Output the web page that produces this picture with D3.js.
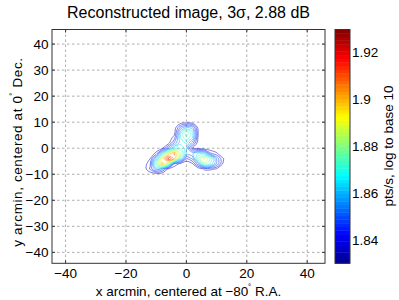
<!DOCTYPE html>
<html>
<head>
<meta charset="utf-8">
<script src="https://cdn.jsdelivr.net/npm/d3@7"></script>
<style>
  body { margin: 0; background: #fff; }
  svg text { font-family: "Liberation Sans", Arial, Helvetica, sans-serif; fill: #000; }
</style>
</head>
<body>
<div id="chart"></div>
<script>
// tick labels
const xTicks = [-40, -20, 0, 20, 40];
const yTicks = [-40, -30, -20, -10, 0, 10, 20, 30, 40];
const cbTicks = [1.84, 1.86, 1.88, 1.9, 1.92];

// colour limits of the image (log10 pts/s)
const cLim = [1.8304, 1.9297];

// contour levels
const levels = [1.835, 1.841, 1.847, 1.853, 1.859, 1.865, 1.871, 1.877,
  1.883, 1.889, 1.895, 1.901, 1.907, 1.913, 1.919];

// sample grid, arcmin
const gridX = [-16, -14, -12, -10, -8, -6, -4, -2, 0, 2, 4, 6, 8, 10, 12, 14];
const gridY = [12, 10, 8, 6, 4, 2, 0, -2, -4, -6, -8, -10, -12];

// reconstructed rate, log10 pts/s, one row per gridY value (top to bottom)
const rateRows = [
  [1.830, 1.830, 1.830, 1.830, 1.830, 1.830, 1.830, 1.830, 1.830, 1.830, 1.830, 1.830, 1.830, 1.830, 1.830, 1.830],
  [1.830, 1.830, 1.830, 1.830, 1.830, 1.830, 1.830, 1.830, 1.831, 1.830, 1.830, 1.830, 1.830, 1.830, 1.830, 1.830],
  [1.830, 1.830, 1.830, 1.830, 1.830, 1.830, 1.830, 1.848, 1.858, 1.855, 1.831, 1.830, 1.830, 1.830, 1.830, 1.830],
  [1.830, 1.830, 1.830, 1.830, 1.830, 1.830, 1.832, 1.862, 1.882, 1.868, 1.833, 1.830, 1.830, 1.830, 1.830, 1.830],
  [1.830, 1.830, 1.830, 1.830, 1.830, 1.830, 1.838, 1.865, 1.876, 1.865, 1.832, 1.830, 1.830, 1.830, 1.830, 1.830],
  [1.830, 1.830, 1.830, 1.830, 1.830, 1.832, 1.848, 1.862, 1.866, 1.850, 1.830, 1.830, 1.830, 1.830, 1.830, 1.830],
  [1.830, 1.830, 1.830, 1.830, 1.834, 1.850, 1.866, 1.872, 1.860, 1.8345, 1.833, 1.830, 1.830, 1.830, 1.830, 1.830],
  [1.830, 1.830, 1.830, 1.837, 1.864, 1.893, 1.908, 1.885, 1.858, 1.858, 1.866, 1.862, 1.842, 1.836, 1.830, 1.830],
  [1.830, 1.830, 1.835, 1.860, 1.895, 1.921, 1.905, 1.868, 1.840, 1.848, 1.878, 1.892, 1.876, 1.852, 1.836, 1.830],
  [1.830, 1.831, 1.840, 1.878, 1.905, 1.880, 1.840, 1.833, 1.830, 1.834, 1.852, 1.880, 1.870, 1.853, 1.835, 1.830],
  [1.830, 1.831, 1.842, 1.858, 1.850, 1.833, 1.830, 1.830, 1.830, 1.830, 1.830, 1.836, 1.836, 1.834, 1.830, 1.830],
  [1.830, 1.830, 1.830, 1.830, 1.830, 1.830, 1.830, 1.830, 1.830, 1.830, 1.830, 1.830, 1.830, 1.830, 1.830, 1.830],
  [1.830, 1.830, 1.830, 1.830, 1.830, 1.830, 1.830, 1.830, 1.830, 1.830, 1.830, 1.830, 1.830, 1.830, 1.830, 1.830]
];

const W = 399, H = 300;
const plot = { left: 52, right: 325, top: 29.5, bottom: 263.3 };
const bar = { left: 335, right: 350 };

const svg = d3.select("#chart").append("svg")
  .attr("width", W)
  .attr("height", H);

const x = d3.scaleLinear().domain([-44.5, 45.9]).range([plot.left, plot.right]);
const y = d3.scaleLinear().domain([-44.2, 45.6]).range([plot.bottom, plot.top]);

// jet colormap over the colour limits
const cSpan = cLim[1] - cLim[0];
const jet = d3.scaleLinear()
  .domain([0, 0.125, 0.375, 0.625, 0.875, 1].map(t => cLim[0] + t * cSpan))
  .range(["#00008f", "#0000ff", "#00ffff", "#ffff00", "#ff0000", "#800000"])
  .clamp(true);

// grid lines
const grid = svg.append("g")
  .attr("stroke", "#999")
  .attr("stroke-width", 0.8)
  .attr("stroke-dasharray", "2.5,2.5");
grid.selectAll(".gx").data(xTicks).enter().append("line")
  .attr("x1", d => x(d)).attr("x2", d => x(d))
  .attr("y1", plot.top).attr("y2", plot.bottom);
grid.selectAll(".gy").data(yTicks).enter().append("line")
  .attr("y1", d => y(d)).attr("y2", d => y(d))
  .attr("x1", plot.left).attr("x2", plot.right);

// contours
const nx = gridX.length, ny = gridY.length;
const stepX = gridX[1] - gridX[0], stepY = gridY[1] - gridY[0];
const flat = rateRows.flat();
const contours = d3.contours().size([nx, ny]).thresholds(levels)(flat);

const line = d3.line().curve(d3.curveCatmullRomClosed.alpha(0.5));
const toPx = p => [x(gridX[0] + (p[0] - 0.5) * stepX), y(gridY[0] + (p[1] - 0.5) * stepY)];

svg.append("clipPath").attr("id", "clip")
  .append("rect")
  .attr("x", plot.left).attr("y", plot.top)
  .attr("width", plot.right - plot.left).attr("height", plot.bottom - plot.top);

const cg = svg.append("g").attr("clip-path", "url(#clip)");
contours.forEach(c => {
  c.coordinates.forEach(poly => {
    poly.forEach(ring => {
      const pts = ring.slice(0, -1).map(toPx);
      if (pts.length < 3) return;
      cg.append("path")
        .attr("d", line(pts))
        .attr("fill", "none")
        .attr("stroke", jet(c.value))
        .attr("stroke-opacity", 0.85)
        .attr("stroke-width", 0.6);
    });
  });
});

// axes box and ticks
svg.append("rect")
  .attr("x", plot.left).attr("y", plot.top)
  .attr("width", plot.right - plot.left).attr("height", plot.bottom - plot.top)
  .attr("fill", "none").attr("stroke", "#333").attr("stroke-width", 1);

const ticks = svg.append("g").attr("stroke", "#333").attr("stroke-width", 1);
xTicks.forEach(d => {
  ticks.append("line").attr("x1", x(d)).attr("x2", x(d)).attr("y1", plot.bottom).attr("y2", plot.bottom - 3);
  ticks.append("line").attr("x1", x(d)).attr("x2", x(d)).attr("y1", plot.top).attr("y2", plot.top + 3);
});
yTicks.forEach(d => {
  ticks.append("line").attr("y1", y(d)).attr("y2", y(d)).attr("x1", plot.left).attr("x2", plot.left + 3);
  ticks.append("line").attr("y1", y(d)).attr("y2", y(d)).attr("x1", plot.right).attr("x2", plot.right - 3);
});

const fmt = v => (v < 0 ? "\u2212" : "") + Math.abs(v);

svg.append("g").selectAll("text").data(xTicks).enter().append("text")
  .attr("x", d => x(d)).attr("y", 278)
  .attr("text-anchor", "middle")
  .attr("font-size", 13.5)
  .text(fmt);

svg.append("g").selectAll("text").data(yTicks).enter().append("text")
  .attr("x", 48.5).attr("y", d => y(d) + 4.8)
  .attr("text-anchor", "end")
  .attr("font-size", 13.5)
  .text(fmt);

// colorbar
const cy = d3.scaleLinear().domain(cLim).range([plot.bottom, plot.top]);
const nBands = 64;
const bands = d3.range(nBands).map(i => cLim[0] + (i + 0.5) * cSpan / nBands);
svg.append("g").selectAll("rect").data(bands).enter().append("rect")
  .attr("x", bar.left)
  .attr("width", bar.right - bar.left)
  .attr("y", (d, i) => cy(cLim[0] + (i + 1) * cSpan / nBands))
  .attr("height", (plot.bottom - plot.top) / nBands + 0.4)
  .attr("fill", d => jet(d));

svg.append("rect")
  .attr("x", bar.left).attr("y", plot.top)
  .attr("width", bar.right - bar.left).attr("height", plot.bottom - plot.top)
  .attr("fill", "none").attr("stroke", "#333").attr("stroke-width", 1);

cbTicks.forEach(d => {
  ticks.append("line").attr("y1", cy(d)).attr("y2", cy(d)).attr("x1", bar.left).attr("x2", bar.left + 2.5);
  ticks.append("line").attr("y1", cy(d)).attr("y2", cy(d)).attr("x1", bar.right).attr("x2", bar.right - 2.5);
});

svg.append("g").selectAll("text").data(cbTicks).enter().append("text")
  .attr("x", 352).attr("y", d => cy(d) + 4.8)
  .attr("font-size", 13.5)
  .text(d => d);

// titles and labels
svg.append("text")
  .attr("x", 188.5).attr("y", 17.5)
  .attr("text-anchor", "middle")
  .attr("font-size", 16)
  .text("Reconstructed image, 3\u03c3, 2.88 dB");

const xl = svg.append("text")
  .attr("x", 188.5).attr("y", 296)
  .attr("text-anchor", "middle")
  .attr("font-size", 13.5);
xl.append("tspan").text("x arcmin, centered at \u221280");
xl.append("tspan").attr("dy", -5).attr("font-size", 9).text("\u02da");
xl.append("tspan").attr("dy", 5).text(" R.A.");

const yl = svg.append("text")
  .attr("transform", "translate(22,152) rotate(-90)")
  .attr("text-anchor", "middle")
  .attr("letter-spacing", 0.6)
  .attr("font-size", 13.5);
yl.append("tspan").text("y arcmin, centered at 0");
yl.append("tspan").attr("dy", -5).attr("font-size", 9).text("\u02da");
yl.append("tspan").attr("dy", 5).text(" Dec.");

svg.append("text")
  .attr("transform", "translate(393,146) rotate(-90)")
  .attr("text-anchor", "middle")
  .attr("font-size", 13.5)
  .text("pts/s, log to base 10");
</script>
</body>
</html>
